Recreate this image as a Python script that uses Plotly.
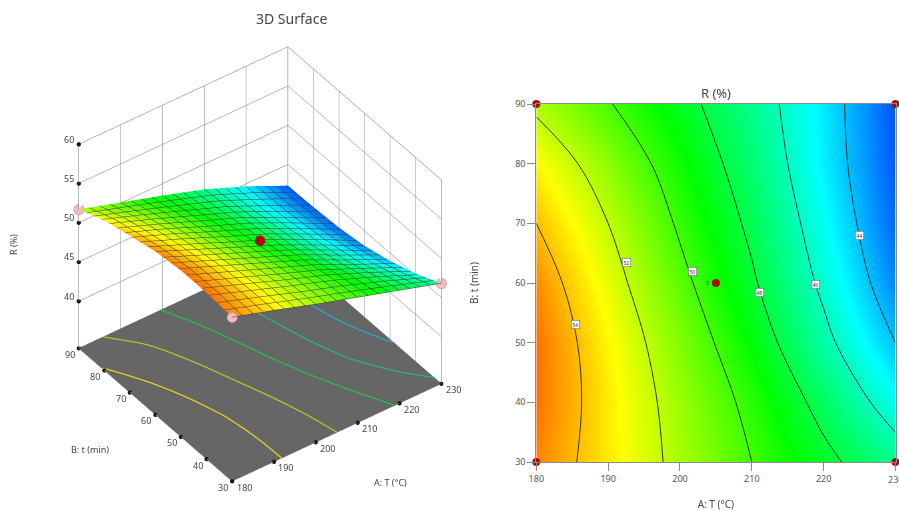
import numpy as np
import plotly.graph_objects as go

temps = [180, 190, 200, 210, 220, 230]
times = [30, 40, 50, 60, 70, 80, 90]
R_t30 = [54.9, 53.3, 51.6, 50.0, 48.4, 46.8]
R_t40 = [55.2, 53.3, 51.4, 49.6, 47.5, 45.2]
R_t50 = [55.2, 53.1, 51.0, 48.9, 46.4, 44.0]
R_t60 = [54.8, 52.6, 50.4, 48.2, 45.7, 43.1]
R_t70 = [54.0, 52.0, 49.8, 47.7, 45.2, 42.6]
R_t80 = [53.1, 51.2, 49.2, 47.2, 44.8, 42.4]
R_t90 = [51.7, 50.1, 48.5, 46.8, 44.7, 42.3]
R = [R_t30, R_t40, R_t50, R_t60, R_t70, R_t80, R_t90]

center_T = [205]
center_t = [60]
center_R = [50.0]
z_ticks = [40, 45, 50, 55, 60]
floor_levels = [53.0, 50.8, 48.6, 46.4, 44.2]
label_levels = ["54", "52", "50", "48", "46", "44"]
label_T = [185.5, 192.5, 201.8, 211.0, 218.8, 225.0]
label_t = [53.0, 63.5, 62.0, 58.4, 59.8, 68.0]

W, H = 899, 511
ZMIN, ZMAX = 34, 60
scale = [[0, "#0000ff"], [0.25, "#00ffff"], [0.5, "#00ff00"], [0.75, "#ffff00"], [1, "#ff0000"]]
floor_colors = ["#ecd820", "#a6d622", "#22c448", "#22b4a0", "#2aa8d2"]
FONT = "Noto Sans"
GREY = "#8a8a8a"
WALL = "#737373"
TXT = "#444444"


def fx(px):
    return px / W


def fy(py):
    return 1 - py / H


arr = np.array(R)
T = np.array(temps, float)
tt = np.array(times, float)


def crossings(level):
    pts = []
    for i, tv in enumerate(tt):
        row = arr[i]
        for j in range(len(T) - 1):
            a, b = row[j], row[j + 1]
            if (a - level) * (b - level) <= 0 and a != b:
                pts.append((T[j] + (level - a) / (b - a) * (T[j + 1] - T[j]), tv))
    for j, Tv in enumerate(T):
        col = arr[:, j]
        for i in range(len(tt) - 1):
            a, b = col[i], col[i + 1]
            if (a - level) * (b - level) <= 0 and a != b:
                pts.append((Tv, tt[i] + (level - a) / (b - a) * (tt[i + 1] - tt[i])))
    pts.sort(key=lambda p: p[1])
    p = np.array(pts)
    for _ in range(3):  # corner cutting, keeps the end points
        q = [p[0]]
        for a, b in zip(p[:-1], p[1:]):
            q += [0.75 * a + 0.25 * b, 0.25 * a + 0.75 * b]
        q.append(p[-1])
        p = np.array(q)
    return p[:, 0].tolist(), p[:, 1].tolist()


fig = go.Figure()

# floor
fig.add_trace(go.Surface(
    x=[temps[0], temps[-1]], y=[times[0], times[-1]],
    z=[[ZMIN + 0.02, ZMIN + 0.02], [ZMIN + 0.02, ZMIN + 0.02]],
    colorscale=[[0, "#666666"], [1, "#666666"]], showscale=False, hoverinfo="skip",
    lighting=dict(ambient=1, diffuse=0, specular=0, fresnel=0),
))
for lev, col in zip(floor_levels, floor_colors):
    cx, cy = crossings(lev)
    fig.add_trace(go.Scatter3d(x=cx, y=cy, z=[ZMIN + 0.06] * len(cx), mode="lines",
                               line=dict(color=col, width=2.5), hoverinfo="skip", showlegend=False))

fig.add_trace(go.Surface(
    x=temps, y=times, z=R, colorscale=scale, cmin=41, cmax=57, showscale=False,
    lighting=dict(ambient=1, diffuse=0, specular=0, fresnel=0, roughness=1),
    contours=dict(
        x=dict(show=True, start=180, end=230, size=2.5, color="#3a3a3a", width=1, highlight=False),
        y=dict(show=True, start=30, end=90, size=3, color="#3a3a3a", width=1, highlight=False),
        z=dict(highlight=False),
    ),
    hoverinfo="skip",
))

# design points
corner_T = [temps[0], temps[-1], temps[0], temps[-1]]
corner_t = [times[0], times[0], times[-1], times[-1]]
corner_R = [R[0][0], R[0][-1], R[-1][0], R[-1][-1]]
fig.add_trace(go.Scatter3d(x=corner_T, y=corner_t, z=corner_R, mode="markers",
                           marker=dict(size=6, color="#f2bcbc", line=dict(color="#c08080", width=1)),
                           hoverinfo="skip", showlegend=False))
fig.add_trace(go.Scatter3d(x=center_T, y=center_t, z=center_R, mode="markers",
                           marker=dict(size=6, color="#a80f0f"), hoverinfo="skip", showlegend=False))

# tick dots
tick_x = temps + [temps[0]] * len(times) + [temps[0]] * len(z_ticks)
tick_y = [times[0]] * len(temps) + times + [times[-1]] * len(z_ticks)
tick_z = [ZMIN] * (len(temps) + len(times)) + z_ticks
fig.add_trace(go.Scatter3d(x=tick_x, y=tick_y, z=tick_z, mode="markers",
                           marker=dict(size=2.5, color="#111111"), hoverinfo="skip", showlegend=False))

# right panel
fig.add_trace(go.Contour(
    x=temps, y=times, z=R, colorscale=scale, zmin=41, zmax=57, showscale=False,
    contours=dict(coloring="heatmap", start=44, end=54, size=2),
    line=dict(color="#333333", width=1, smoothing=1), hoverinfo="skip",
    xaxis="x", yaxis="y",
))
fig.add_trace(go.Scatter(
    x=corner_T + center_T, y=corner_t + center_t, mode="markers",
    marker=dict(size=8, color="#a80f0f"), cliponaxis=False, hoverinfo="skip", showlegend=False,
    xaxis="x", yaxis="y",
))

axis3d = dict(showbackground=True, backgroundcolor="white", gridcolor=WALL, gridwidth=1,
              showline=True, linecolor=WALL, linewidth=1, mirror=True, zeroline=False,
              showspikes=False, title=dict(text=""), showticklabels=False, ticks="")

tickfont = dict(family=FONT, size=9, color=TXT)
scene_ann = []
for v in temps:
    scene_ann.append(dict(x=v, y=times[0], z=ZMIN, text=str(v), showarrow=False, xshift=12, yshift=-6, font=tickfont))
for v in times:
    scene_ann.append(dict(x=temps[0], y=v, z=ZMIN, text=str(v), showarrow=False, xshift=-9, yshift=-6, font=tickfont))
for v in z_ticks:
    scene_ann.append(dict(x=temps[0], y=times[-1], z=v, text=str(v), showarrow=False, xshift=-10, yshift=5, font=tickfont))

annots = []
for txt, xv, yv in zip(label_levels, label_T, label_t):
    annots.append(dict(x=xv, y=yv, xref="x", yref="y", text=txt, showarrow=False,
                       font=dict(family=FONT, size=5, color="#333333"),
                       bgcolor="white", bordercolor="#555555", borderwidth=0.5, borderpad=1))
annots.append(dict(x=center_T[0], y=center_t[0], xref="x", yref="y", text="3", showarrow=False,
                   xshift=-8, font=dict(family=FONT, size=5, color="#333333")))
annots.append(dict(x=temps[-1], y=times[0], xref="x", yref="y", text=str(temps[-1]), showarrow=False,
                   yshift=-17, font=dict(family=FONT, size=9, color="#555555")))
for txt, px, py, ang, size in [("3D Surface", 291, 18, 0, 14), ("R (%)", 14, 245, -90, 9),
                               ("A: T (°C)", 390, 482, 0, 9), ("B: t (min)", 90, 449, 0, 9)]:
    annots.append(dict(x=fx(px), y=fy(py), xref="paper", yref="paper", text=txt, xanchor="center",
                       yanchor="middle", showarrow=False, textangle=ang,
                       font=dict(family=FONT, size=size, color=TXT)))

fig.update_layout(
    width=W, height=H, autosize=False, paper_bgcolor="white", showlegend=False,
    margin=dict(l=0, r=0, t=0, b=0, pad=0, autoexpand=False),
    font=dict(family=FONT, color=TXT),
    title=dict(text="R (%)", x=fx(716), xanchor="center", y=fy(93), yanchor="middle",
               font=dict(family=FONT, size=13, color=TXT)),
    annotations=annots,
    scene=dict(
        domain=dict(x=[fx(8), fx(512)], y=[fy(511), fy(17)]),
        xaxis=dict(axis3d, range=[180, 230], tickvals=temps),
        yaxis=dict(axis3d, range=[30, 90], tickvals=times),
        zaxis=dict(axis3d, range=[ZMIN, ZMAX], tickvals=z_ticks, backgroundcolor="#666666"),
        aspectmode="manual", aspectratio=dict(x=1.05, y=1.05, z=1.07),
        camera=dict(eye=dict(x=-1.019, y=-1.39, z=1.42), center=dict(x=0, y=0, z=0),
                    up=dict(x=0, y=0, z=1), projection=dict(type="orthographic")),
        bgcolor="rgba(0,0,0,0)",
        annotations=scene_ann,
    ),
    xaxis=dict(domain=[fx(536.3), fx(895.5)], range=[180, 230], tickvals=temps, ticks="outside",
               automargin=False,
               ticklen=8, tickcolor=GREY, linecolor=GREY, showline=True, mirror=True, showgrid=False,
               zeroline=False, tickfont=dict(size=9, color="#555555"),
               title=dict(text="A: T (°C)", font=dict(size=10, color=TXT), standoff=20)),
    yaxis=dict(domain=[fy(462), fy(104)], range=[30, 90], tickvals=times, ticks="outside",
               automargin=False,
               ticklen=8, tickcolor=GREY, linecolor=GREY, showline=True, mirror=True, showgrid=False,
               zeroline=False, tickfont=dict(size=9, color="#555555"),
               title=dict(text="B: t (min)", font=dict(size=10, color=TXT), standoff=34)),
)

fig.write_html("out.html", config=dict(displayModeBar=False),
               post_script="document.body.style.margin='0';document.documentElement.style.overflow='hidden';")
